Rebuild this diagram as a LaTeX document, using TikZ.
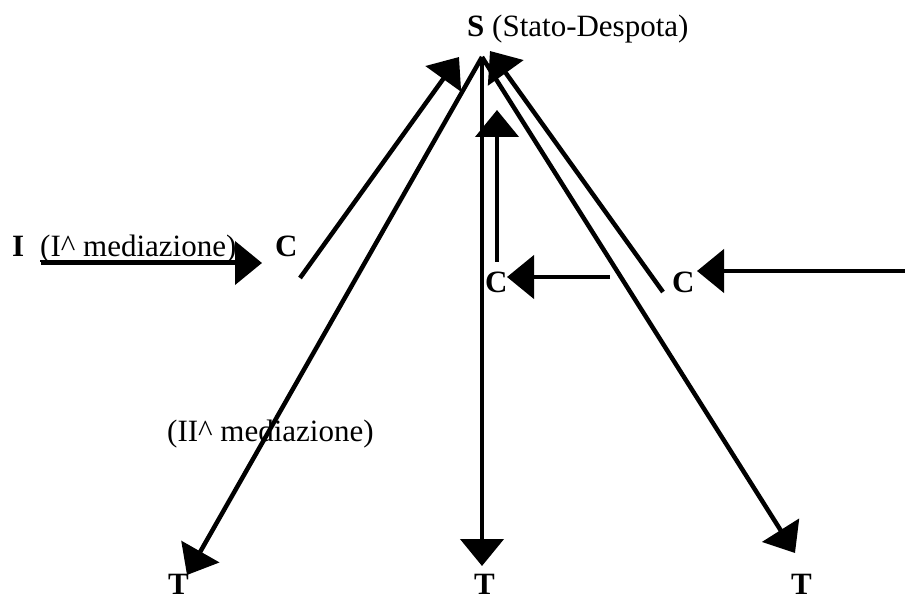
\documentclass[tikz,border=0pt]{standalone}
\usepackage{fontspec}
\setmainfont{Liberation Serif}
\usetikzlibrary{arrows.meta}
\begin{document}
\begin{tikzpicture}[x=1pt,y=-1pt,
  lbl/.style={anchor=base west,inner sep=0pt,font=\fontsize{31}{37}\selectfont},
  conn/.style={line width=4.5pt,-{Triangle[length=27pt,width=43pt]}},
  uline/.style={line width=1.2pt}]
\useasboundingbox (0,0) rectangle (905,601);
% labels
\node[lbl] (nS) at (467,37) {\textbf{S} (Stato-Despota)};
\node[lbl] (nI) at (12,257) {\textbf{I}};
\node[lbl] (nMedA) at (40,257) {(I\textasciicircum\ mediazione)};
\draw[uline] ([yshift=-4pt]nMedA.base west) -- ([yshift=-4pt]nMedA.base east);
\node[lbl] (nCL) at (275,257) {\textbf{C}};
\node[lbl] (nCM) at (485,293) {\textbf{C}};
\node[lbl] (nCR) at (672,293) {\textbf{C}};
\node[lbl] (nMedB) at (167,442) {(II\textasciicircum\ mediazione)};
\node[lbl] (nTL) at (168,594) {\textbf{T}};
\node[lbl] (nTM) at (474,594) {\textbf{T}};
\node[lbl] (nTR) at (791,594) {\textbf{T}};
% coordinates
\coordinate (apex) at (482,57);
\coordinate (tipTL) at (187,575);
\coordinate (tipTM) at (482,566);
\coordinate (tipTR) at (795,553);
\coordinate (cl) at (300,278);
\coordinate (tipSL) at (459,57);
\coordinate (cr) at (663,292);
\coordinate (tipSR) at (490,51);
\coordinate (inS) at (497,262);
\coordinate (inT) at (497,110);
\coordinate (mhS) at (610,277);
\coordinate (mhT) at (507,277);
\coordinate (rhS) at (905,271);
\coordinate (rhT) at (697,271);
\coordinate (lhS) at (41,263);
\coordinate (lhT) at (262,263);
% connectors
\draw[conn] (apex) -- (tipTL);
\draw[conn] (apex) -- (tipTM);
\draw[conn] (apex) -- (tipTR);
\draw[conn] (cl) -- (tipSL);
\draw[conn] (cr) -- (tipSR);
\draw[conn] (inS) -- (inT);
\draw[conn] (mhS) -- (mhT);
\draw[conn] (rhS) -- (rhT);
\draw[conn] (lhS) -- (lhT);
\end{tikzpicture}
\end{document}
